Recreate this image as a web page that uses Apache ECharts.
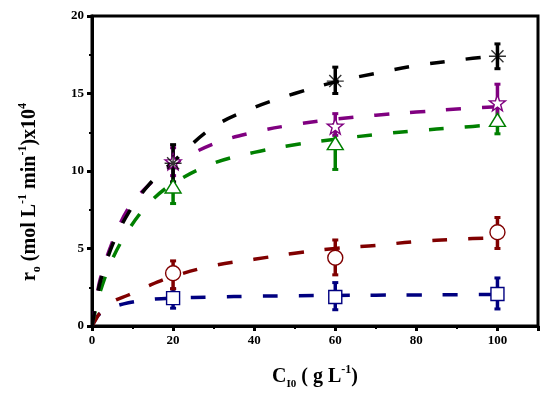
<!DOCTYPE html>
<html><head><meta charset="utf-8">
<script src="https://cdn.jsdelivr.net/npm/echarts@6/dist/echarts.min.js"></script>
<style>html,body{margin:0;padding:0;background:#fff}#c{width:550px;height:396px}</style>
</head><body><div id="c"></div>
<script>
// ---- data ----
const curveX = [0, 1, 2, 5, 9, 14, 20, 30, 40, 50, 60, 70, 80, 90, 100];
const curveBlack  = [0, 1.5, 2.8, 5.2, 7.3, 9.1, 10.6, 12.85, 14.1, 15.0, 15.75, 16.3, 16.8, 17.15, 17.45];
const curvePurple = [0, 1.6, 3.0, 5.4, 7.6, 9.1, 10.4, 11.75, 12.5, 13.0, 13.35, 13.6, 13.8, 14.0, 14.15];
const curveGreen  = [0, 1.2, 2.2, 4.3, 6.2, 7.9, 9.2, 10.5, 11.2, 11.7, 12.05, 12.35, 12.6, 12.8, 13.0];
const curveRed    = [0, 0.45, 0.85, 1.55, 2.0, 2.6, 3.2, 3.9, 4.3, 4.7, 5.0, 5.2, 5.45, 5.6, 5.7];
const curveBlue   = [0, 0.5, 0.8, 1.2, 1.5, 1.7, 1.8, 1.87, 1.92, 1.95, 1.97, 1.99, 2.0, 2.02, 2.04];

const ptX = [20, 60, 100];
const blackY  = [10.5, 15.8, 17.4];
const blackLo = [9.3, 15.0, 16.6];
const blackHi = [11.7, 16.7, 18.2];
const purpleY  = [10.6, 12.9, 14.4];
const purpleLo = [9.7, 12.3, 13.3];
const purpleHi = [11.5, 13.7, 15.6];
const greenY  = [9.0, 11.8, 13.3];
const greenLo = [7.9, 10.1, 12.4];
const greenHi = [10.2, 13.0, 14.1];
const redY  = [3.4, 4.4, 6.05];
const redLo = [2.4, 3.3, 5.0];
const redHi = [4.2, 5.55, 7.0];
const blueY  = [1.8, 1.87, 2.06];
const blueLo = [1.15, 1.05, 1.1];
const blueHi = [2.4, 2.8, 3.1];

const xTicks = [0, 20, 40, 60, 80, 100];
const yTicks = [0, 5, 10, 15, 20];

// ---- chart ----
const FONT = '"Liberation Serif", "DejaVu Serif", serif';
const C = {black:'#000000', purple:'#800080', green:'#008000', red:'#800000', blue:'#000080'};

function pairs(xs, ys){ return xs.map((x,i)=>[x, ys[i]]); }
function triples(xs, lo, hi){ return xs.map((x,i)=>[x, lo[i], hi[i]]); }

function curve(ys, color){
  const pts = pairs(curveX, ys);
  return {type:'custom', data: pts, encode:{x:0, y:1}, z:2, silent:true, clip:true,
    renderItem: function(params, api){
      if (params.dataIndex !== 0) return null;
      const P = pts.map(p => api.coord(p));
      return {type:'polyline', shape:{points:P, smooth:0.35},
        style:{stroke:color, lineWidth:3.5, lineDash:[15,21], lineCap:'butt', fill:null}};
    }};
}
function errbar(lo, hi, color){
  return {type:'custom', data: triples(ptX, lo, hi), encode:{x:0, y:[1,2]}, z:3, silent:true,
    renderItem: function(params, api){
      const x = api.value(0), l = api.value(1), h = api.value(2);
      const p1 = api.coord([x, h]), p2 = api.coord([x, l]);
      return {type:'group', children:[
        {type:'line', shape:{x1:p1[0], y1:p1[1], x2:p2[0], y2:p2[1]}, style:{stroke:color, lineWidth:3.5}},
        {type:'rect', shape:{x:p1[0]-3, y:p1[1]-1.5, width:6, height:3}, style:{fill:color}},
        {type:'rect', shape:{x:p2[0]-3, y:p2[1]-1.5, width:6, height:3}, style:{fill:color}}
      ]};
    }};
}
function marker(ys, color, symbol, size){
  return {type:'scatter', data: pairs(ptX, ys), symbol:symbol, symbolSize:size, z:4, silent:true,
    itemStyle:{color:'#ffffff', borderColor:color, borderWidth:1.4, opacity:1}};
}
const asterisk = 'path://M0,-10L0,10M-10,0L10,0M-7.07,-7.07L7.07,7.07M-7.07,7.07L7.07,-7.07';
const starPath = 'path://M0,-10L2.35,-3.24L9.51,-3.09L3.8,1.24L5.88,8.09L0,4L-5.88,8.09L-3.8,1.24L-9.51,-3.09L-2.35,-3.24Z';

const chart = echarts.init(document.getElementById('c'), null, {renderer:'canvas'});
chart.setOption({
  animation:false,
  backgroundColor:'#ffffff',
  grid:{left:92, right:12, top:16, bottom:70, show:true, borderColor:'#000', borderWidth:3, backgroundColor:'transparent'},
  xAxis:{type:'value', min:0, max:110, interval:20,
    axisLine:{show:true, lineStyle:{color:'#000', width:3}},
    axisTick:{show:true, length:5, lineStyle:{color:'#000', width:3}},
    minorTick:{show:true, splitNumber:2, length:3, lineStyle:{color:'#000', width:2}},
    splitLine:{show:false},
    axisLabel:{color:'#000', fontFamily:FONT, fontWeight:'bold', fontSize:13, margin:8, showMaxLabel:false,
      formatter: v => xTicks.indexOf(v) >= 0 ? String(v) : ''}},
  yAxis:{type:'value', min:0, max:20, interval:5,
    axisLine:{show:true, lineStyle:{color:'#000', width:3}},
    axisTick:{show:true, length:5, lineStyle:{color:'#000', width:3}},
    minorTick:{show:true, splitNumber:2, length:3, lineStyle:{color:'#000', width:2}},
    splitLine:{show:false},
    axisLabel:{color:'#000', fontFamily:FONT, fontWeight:'bold', fontSize:13, margin:8,
      formatter: v => yTicks.indexOf(v) >= 0 ? String(v) : ''}},
  graphic:[
    {type:'text', x:30, y:192, rotation:Math.PI/2, z:10, silent:true,
      style:{text:'{m|r}{sub|o}{m| (mol L}{sup|-1}{m| min}{sup|-1}{m|)x10}{sup|4}',
        align:'center', verticalAlign:'middle',
        rich:{
          m:{fontFamily:FONT, fontWeight:'bold', fontSize:20, lineHeight:26, fill:'#000', verticalAlign:'middle'},
          sub:{fontFamily:FONT, fontWeight:'bold', fontSize:12, lineHeight:12, fill:'#000', verticalAlign:'bottom'},
          sup:{fontFamily:FONT, fontWeight:'bold', fontSize:12, lineHeight:12, fill:'#000', verticalAlign:'top'}
        }}},
    {type:'text', x:315, y:377, z:10, silent:true,
      style:{text:'{m|C}{sub|I0}{m| ( g L}{sup|-1}{m|)}',
        align:'center', verticalAlign:'middle',
        rich:{
          m:{fontFamily:FONT, fontWeight:'bold', fontSize:20, lineHeight:26, fill:'#000', verticalAlign:'middle'},
          sub:{fontFamily:FONT, fontWeight:'bold', fontSize:11, lineHeight:11, fill:'#000', verticalAlign:'bottom'},
          sup:{fontFamily:FONT, fontWeight:'bold', fontSize:12, lineHeight:12, fill:'#000', verticalAlign:'top'}
        }}}
  ],
  series:[
    curve(curveBlue, C.blue),
    curve(curveRed, C.red),
    curve(curveGreen, C.green),
    curve(curvePurple, C.purple),
    curve(curveBlack, C.black),
    errbar(blueLo, blueHi, C.blue),
    errbar(redLo, redHi, C.red),
    errbar(greenLo, greenHi, C.green),
    errbar(purpleLo, purpleHi, C.purple),
    errbar(blackLo, blackHi, C.black),
    marker(blueY, C.blue, 'rect', 13),
    marker(redY, C.red, 'circle', 15),
    marker(greenY, C.green, 'triangle', [16,13]),
    marker(purpleY, C.purple, starPath, 16),
    {type:'scatter', data: pairs(ptX, blackY), symbol:asterisk, symbolSize:17, z:5, silent:true,
      itemStyle:{color:'none', borderColor:C.black, borderWidth:1.4}}
  ]
});
</script></body></html>
